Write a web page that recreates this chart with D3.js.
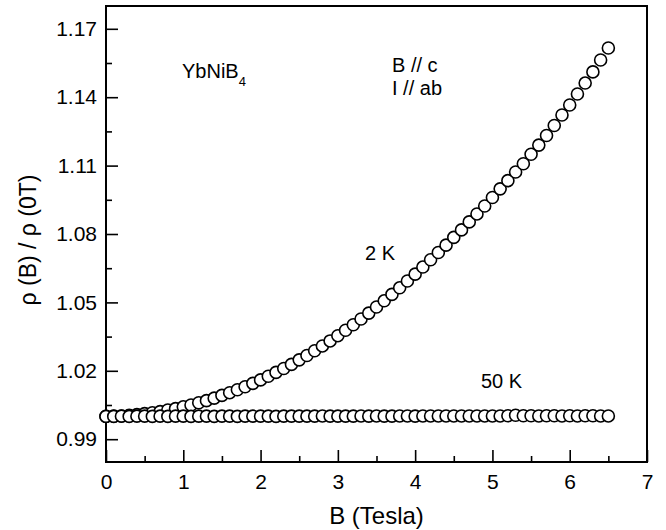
<!DOCTYPE html>
<html>
<head>
<meta charset="utf-8">
<style>
    body { margin: 0; background: white; }
    svg { display: block; font-family: "Liberation Sans", Arial, sans-serif; }
    .tick line { stroke: black; stroke-width: 1.6; }
</style>
</head>
<body>
<svg width="666" height="530"></svg>
<script src="https://d3js.org/d3.v7.min.js"></script>
<script>
// field values (Tesla), shared by both sweeps
const fieldB = [0.0,0.1,0.2,0.3,0.4,0.5,0.6,0.7,0.8,0.9,
    1.0,1.1,1.2,1.3,1.4,1.5,1.6,1.7,1.8,1.9,
    2.0,2.1,2.2,2.3,2.4,2.5,2.6,2.7,2.8,2.9,
    3.0,3.1,3.2,3.3,3.4,3.5,3.6,3.7,3.8,3.9,
    4.0,4.1,4.2,4.3,4.4,4.5,4.6,4.7,4.8,4.9,
    5.0,5.1,5.2,5.3,5.4,5.5,5.6,5.7,5.8,5.9,
    6.0,6.1,6.2,6.3,6.4,6.5];

// rho(B)/rho(0T) at 2 K
const rho2K = [1.0000,1.0001,1.0002,1.0005,1.0008,1.0012,1.0016,1.0021,1.0028,1.0034,
    1.0042,1.0050,1.0060,1.0069,1.0080,1.0092,1.0104,1.0117,1.0130,1.0145,
    1.0160,1.0176,1.0193,1.0210,1.0228,1.0248,1.0267,1.0288,1.0309,1.0331,
    1.0354,1.0378,1.0402,1.0427,1.0453,1.0480,1.0507,1.0535,1.0564,1.0594,
    1.0624,1.0655,1.0687,1.0719,1.0751,1.0785,1.0818,1.0853,1.0888,1.0923,
    1.0960,1.0998,1.1034,1.1072,1.1108,1.1150,1.1190,1.1232,1.1276,1.1322,
    1.1366,1.1414,1.1462,1.1511,1.1563,1.1616];

// rho(B)/rho(0T) at 50 K
const rho50K = [1.0000,1.0000,1.0001,1.0000,1.0001,1.0001,1.0000,1.0001,1.0000,1.0001,
    1.0001,1.0000,1.0001,1.0001,1.0000,1.0001,1.0001,1.0000,1.0001,1.0001,
    1.0001,1.0001,1.0000,1.0001,1.0001,1.0001,1.0001,1.0001,1.0002,1.0001,
    1.0001,1.0001,1.0001,1.0002,1.0001,1.0002,1.0001,1.0001,1.0002,1.0002,
    1.0001,1.0002,1.0002,1.0002,1.0002,1.0002,1.0002,1.0002,1.0002,1.0002,
    1.0002,1.0002,1.0003,1.0005,1.0003,1.0003,1.0002,1.0003,1.0003,1.0002,
    1.0003,1.0002,1.0003,1.0003,1.0002,1.0002];

const xTicks = [0,1,2,3,4,5,6,7];
const xMinor = [0.5,1.5,2.5,3.5,4.5,5.5,6.5];
const yTicks = [0.99,1.02,1.05,1.08,1.11,1.14,1.17];
const yMinor = [1.005,1.035,1.065,1.095,1.125,1.155];

let m = {left: 106, right: 647, top: 6, bottom: 462};
let svg = d3.select("svg");

let x = d3.scaleLinear().domain([0, 7]).range([m.left, m.right]);
let y = d3.scaleLinear().domain([0.98, 1.18]).range([m.bottom, m.top]);

// x axis, ticks pointing inward
svg.append("g")
    .attr("transform", `translate(0,${m.bottom})`)
    .call(d3.axisBottom(x).tickValues(xTicks).tickSize(-12).tickPadding(12).tickFormat(d3.format("d")))
    .call(g => g.select(".domain").remove())
    .call(g => g.selectAll("text").attr("font-size", 21).attr("fill", "black"));

svg.append("g")
    .attr("transform", `translate(0,${m.bottom})`)
    .call(d3.axisBottom(x).tickValues(xMinor).tickSize(-6).tickFormat(""))
    .call(g => g.select(".domain").remove());

// y axis
svg.append("g")
    .attr("transform", `translate(${m.left},0)`)
    .call(d3.axisLeft(y).tickValues(yTicks).tickSize(-12).tickPadding(9).tickFormat(d3.format(".2f")))
    .call(g => g.select(".domain").remove())
    .call(g => g.selectAll("text").attr("font-size", 21).attr("fill", "black"));

svg.append("g")
    .attr("transform", `translate(${m.left},0)`)
    .call(d3.axisLeft(y).tickValues(yMinor).tickSize(-6).tickFormat(""))
    .call(g => g.select(".domain").remove());

svg.selectAll("g").attr("font-family", null);

// frame
svg.append("rect")
    .attr("x", m.left).attr("y", m.top)
    .attr("width", m.right - m.left).attr("height", m.bottom - m.top)
    .attr("fill", "none").attr("stroke", "black").attr("stroke-width", 2);

// data: 2 K first, 50 K on top
let series = [rho2K, rho50K];
series.forEach(vals => {
    svg.append("g")
        .selectAll("circle")
        .data(fieldB.map((b, i) => [b, vals[i]]))
        .join("circle")
        .attr("cx", d => x(d[0]))
        .attr("cy", d => y(d[1]))
        .attr("r", 6)
        .attr("fill", "white")
        .attr("stroke", "black")
        .attr("stroke-width", 1.6);
});

// axis titles
svg.append("text")
    .attr("x", (m.left + m.right) / 2)
    .attr("y", 524)
    .attr("text-anchor", "middle")
    .attr("font-size", 24)
    .text("B (Tesla)");

svg.append("text")
    .attr("transform", `translate(36,240) rotate(-90)`)
    .attr("text-anchor", "middle")
    .attr("font-size", 23)
    .text("ρ (B) / ρ (0T)");

// annotations
let yb = svg.append("text").attr("x", 182).attr("y", 78).attr("font-size", 20);
yb.append("tspan").text("YbNiB");
yb.append("tspan").attr("font-size", 13).attr("dy", 8).text("4");

svg.append("text").attr("x", 392).attr("y", 72).attr("font-size", 20).text("B // c");
svg.append("text").attr("x", 392).attr("y", 95).attr("font-size", 20).text("I // ab");
svg.append("text").attr("x", 365).attr("y", 260).attr("font-size", 20).text("2 K");
svg.append("text").attr("x", 481).attr("y", 388).attr("font-size", 20).text("50 K");
</script>
</body>
</html>
